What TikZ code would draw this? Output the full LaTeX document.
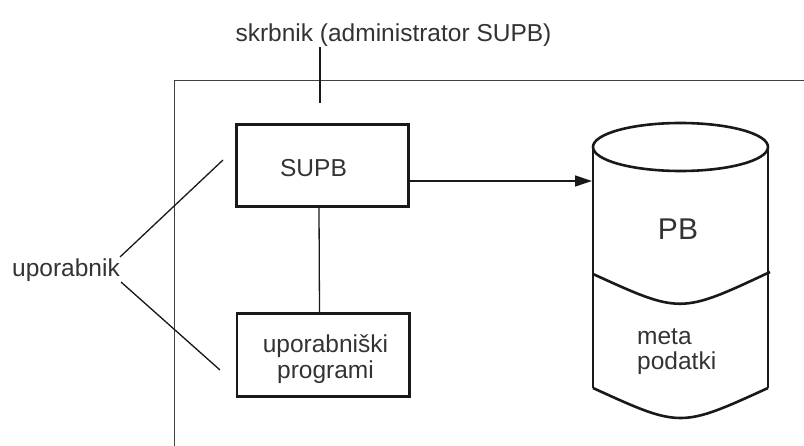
\documentclass[tikz,border=0pt]{standalone}
\usepackage{fontspec}
\setmainfont{Liberation Sans}
\usetikzlibrary{arrows.meta}
\begin{document}
\begin{tikzpicture}[x=1pt,y=-1pt,
  lbl/.style={inner sep=0pt, text=black!80, font=\fontsize{24.5}{26}\selectfont},
  biglbl/.style={inner sep=0pt, text=black!80, font=\fontsize{30}{32}\selectfont},
  boxnode/.style={draw=black!90, line width=2.7pt, minimum width=172.3pt, minimum height=82.5pt, inner sep=0pt},
  thinline/.style={line width=1.3pt, draw=black!90},
  frameline/.style={line width=1pt, draw=black!75},
  cylline/.style={line width=2.6pt, draw=black!90}]
\useasboundingbox (0,0) rectangle (804,446);
% frame
\draw[frameline] (804,81) -- (174,81) -- (174,446);
% title and its line
\node[lbl, anchor=base] (title) at (393.5,42) {skrbnik (administrator SUPB)};
\coordinate (titleend) at (320,103);
\draw[thinline, line width=1.1pt] (title.south -| titleend) -- (titleend);
% boxes
\node[boxnode] (supb) at (322.5,165.5) {};
\node[lbl, anchor=base] (supbtxt) at (313.5,177) {SUPB};
\node[boxnode] (prog) at (323,355) {};
\node[lbl, anchor=base, align=center] (progtxt) at (325.5,353) {uporabniški};
\node[lbl, anchor=base] (progtxt2) at (325.5,379) {programi};
\draw[thinline] ([xshift=-3.5pt]supb.south) -- ([xshift=-3.5pt]prog.north);
% cylinder
\coordinate (dbin) at (592,181);
\draw[cylline] (680.5,147) ellipse [x radius=87.5, y radius=24];
\draw[cylline] (593,147) -- (593,388);
\draw[cylline] (768,147) -- (768,388);
\draw[cylline] (593,274) .. controls (680.5,314) .. (770,272);
\draw[cylline] (593,388) .. controls (680.5,428) .. (768,388);
\node[biglbl, anchor=base] (pb) at (678,240) {PB};
\node[lbl, anchor=base west] (meta) at (637,345) {meta};
\node[lbl, anchor=base west] (pod) at (637,370) {podatki};
% arrow
\draw[thinline, -{Triangle[length=17pt, width=11pt]}] ([yshift=-15.5pt]supb.east) -- (dbin);
% uporabnik
\node[lbl, anchor=base west] (upor) at (12,277) {uporabnik};
\coordinate (u1a) at (120,257);
\coordinate (u1b) at (223,160);
\coordinate (u2a) at (121,282);
\coordinate (u2b) at (220,370);
\draw[thinline] (u1a) -- (u1b);
\draw[thinline] (u2a) -- (u2b);
\end{tikzpicture}
\end{document}
